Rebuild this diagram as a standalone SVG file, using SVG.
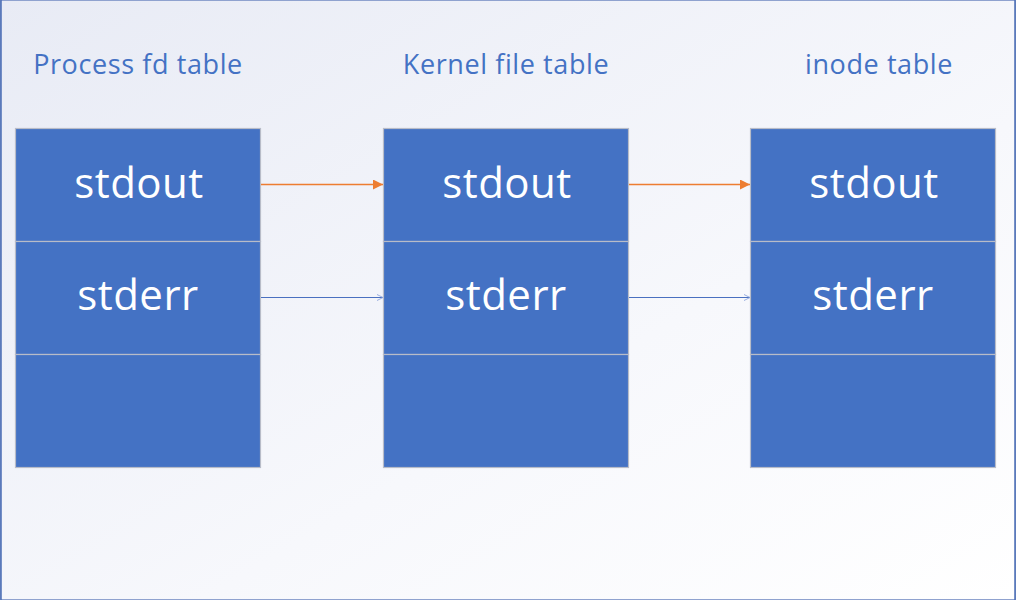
<svg xmlns="http://www.w3.org/2000/svg" width="1016" height="600" viewBox="0 0 1016 600">
<defs>
<linearGradient id="bg" x1="0" y1="0" x2="1" y2="1">
<stop offset="0" stop-color="#e8ebf5"/>
<stop offset="0.6" stop-color="#f7f8fc"/>
<stop offset="1" stop-color="#ffffff"/>
</linearGradient>
<marker id="tri" viewBox="0 0 10 10" refX="10" refY="5" markerWidth="14" markerHeight="10" markerUnits="userSpaceOnUse" orient="auto">
<path d="M0,0 L10,5 L0,10 Z" fill="#ed7d31"/>
</marker>
<marker id="chev" viewBox="0 0 10 10" refX="10" refY="5" markerWidth="6" markerHeight="10" markerUnits="userSpaceOnUse" orient="auto">
<path d="M0,0 L10,5 L0,10" fill="none" stroke="#8fa6dc" stroke-width="1.5"/>
</marker>
</defs>
<style>
.cell{fill:#4472c4;stroke:#b8bcc8;stroke-width:1.2}
.cap{font-family:"Open Sans","Liberation Sans",sans-serif;font-size:27px;letter-spacing:0.6px;fill:#4472c4;text-anchor:middle}
.lbl{font-family:"Open Sans","Liberation Sans",sans-serif;font-size:42px;letter-spacing:0.5px;fill:#ffffff;text-anchor:middle}
</style>
<rect x="0.5" y="0.5" width="1015" height="599" fill="url(#bg)" stroke="#8fa2cf" stroke-width="1"/>
<line x1="1" y1="0" x2="1" y2="600" stroke="#4a6cb5" stroke-width="1.5"/>
<line x1="1015" y1="0" x2="1015" y2="600" stroke="#4a6cb5" stroke-width="1.5"/>

<g id="title-process"><text class="cap" x="138" y="74">Process fd table</text></g>
<g id="title-kernel"><text class="cap" x="506" y="74">Kernel file table</text></g>
<g id="title-inode"><text class="cap" x="879" y="74">inode table</text></g>

<g id="process-table">
<rect class="cell" x="15.5" y="128.5" width="245" height="113"/>
<rect class="cell" x="15.5" y="241.5" width="245" height="113"/>
<rect class="cell" x="15.5" y="354.5" width="245" height="113"/>
<text class="lbl" x="139" y="198">stdout</text>
<text class="lbl" x="138" y="310">stderr</text>
</g>
<g id="kernel-table">
<rect class="cell" x="383.5" y="128.5" width="245" height="113"/>
<rect class="cell" x="383.5" y="241.5" width="245" height="113"/>
<rect class="cell" x="383.5" y="354.5" width="245" height="113"/>
<text class="lbl" x="507" y="198">stdout</text>
<text class="lbl" x="506" y="310">stderr</text>
</g>
<g id="inode-table">
<rect class="cell" x="750.5" y="128.5" width="245" height="113"/>
<rect class="cell" x="750.5" y="241.5" width="245" height="113"/>
<rect class="cell" x="750.5" y="354.5" width="245" height="113"/>
<text class="lbl" x="874" y="198">stdout</text>
<text class="lbl" x="873" y="310">stderr</text>
</g>

<g id="connectors">
<line x1="261" y1="184.5" x2="383" y2="184.5" stroke="#ed7d31" stroke-width="1.5" marker-end="url(#tri)"/>
<line x1="629" y1="184.5" x2="750" y2="184.5" stroke="#ed7d31" stroke-width="1.5" marker-end="url(#tri)"/>
<line x1="261" y1="297.5" x2="383" y2="297.5" stroke="#4a70c0" stroke-width="1" marker-end="url(#chev)"/>
<line x1="629" y1="297.5" x2="750" y2="297.5" stroke="#4a70c0" stroke-width="1" marker-end="url(#chev)"/>
</g>
</svg>
